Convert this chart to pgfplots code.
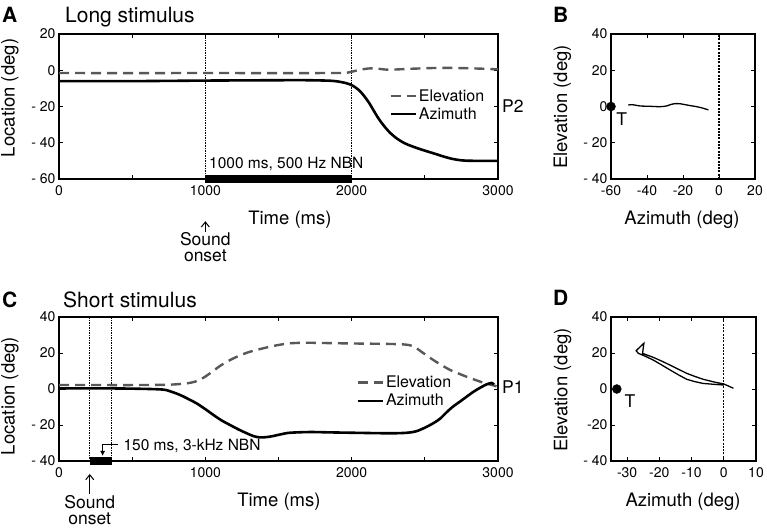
\documentclass[border=0pt]{standalone}
\usepackage{fontspec}
\setmainfont{TeX Gyre Heros}
\usepackage{pgfplots}
\pgfplotsset{compat=1.18}
\usetikzlibrary{arrows.meta}
\definecolor{elev}{RGB}{88,88,88}

\pgfplotsset{
  panel/.style={
    scale only axis, clip=false, anchor=south west,
    tick align=inside, major tick length=4pt, minor tick length=4pt,
    tick style={black, line width=0.9pt},
    axis line style={line width=1.1pt},
    tick label style={font=\fontsize{14}{14}\selectfont},
    xticklabel style={yshift=-3pt},
    label style={font=\fontsize{18.5}{18.5}\selectfont},
    legend image code/.code={\draw[##1] (0pt,0pt) -- (25pt,0pt);},
    legend style={draw=none, fill=none, inner sep=0pt, row sep=1pt,
      font=\fontsize{16}{16}\selectfont, cells={anchor=west}},
  },
}
\tikzset{
  elevation/.style={elev, line width=2.4pt, dash pattern=on 10pt off 6pt},
  azimuth/.style={black, line width=2.6pt},
  track/.style={black, line width=1.3pt},
  marker/.style={black, line width=1.3pt, dash pattern=on 1.5pt off 1pt},
  paneltag/.style={anchor=base west, inner sep=0pt, font=\fontsize{21}{21}\selectfont\bfseries},
  paneltitle/.style={anchor=base west, inner sep=0pt, font=\fontsize{21}{21}\selectfont},
  small/.style={inner sep=0pt, font=\fontsize{17.5}{16.5}\selectfont},
  onset/.style={-{Straight Barb[length=5pt,width=8pt]}, line width=1pt},
}

\begin{document}
\begin{tikzpicture}
\path[use as bounding box] (0pt,0pt) rectangle (767pt,528pt);

% ---------------- A: long stimulus
\begin{axis}[panel, at={(59pt,349pt)}, width=439pt, height=145pt,
  xmin=0, xmax=3000, ymin=-60, ymax=20,
  xtick={0,1000,2000,3000}, xticklabels={0,1000,2000,3000},
  minor xtick={500,1500,2500},
  ytick={-60,-40,-20,0,20}, yticklabels={- 60,- 40,- 20,0,20},
  xlabel={Time (ms)}, ylabel={Location (deg)},
  xlabel style={at={(axis description cs:0.526,-0.283)}, anchor=center},
  ylabel style={at={(axis description cs:-0.112,0.559)}, anchor=center},
  legend style={at={(rel axis cs:0.752,0.51)}, anchor=west},
]
\addplot[marker, forget plot] coordinates {(1000,-60) (1000,20)};
\addplot[marker, forget plot] coordinates {(2000,-60) (2000,20)};
\addplot[black, line width=8pt, forget plot] coordinates {(1000,-60) (2000,-60)};
\addplot[elevation, smooth] coordinates {
  (0,-1.5) (500,-1.6) (1000,-1.5) (1500,-1.6) (1900,-1.5) (1966,-1.4) (2011,-0.6)
  (2080,0.6) (2150,1.1) (2250,0.3) (2400,0.8) (2600,1.3) (2800,1.1) (3000,0.5)};
\addlegendentry{Elevation}
\addplot[azimuth, smooth] coordinates {
  (0,-6.0) (500,-6.0) (1000,-5.7) (1500,-5.5) (1700,-5.5) (1875,-5.9) (1966,-7.2)
  (2011,-8.7) (2050,-11) (2080,-13.7) (2115,-17.5) (2148,-21.9) (2180,-26.2)
  (2216,-30.2) (2260,-34.3) (2308,-37.6) (2360,-40.2) (2421,-42.2) (2490,-44.1)
  (2558,-45.8) (2620,-47.4) (2672,-48.6) (2730,-49.5) (2786,-49.9) (2900,-50.0) (3000,-50.0)};
\addlegendentry{Azimuth}
\node[paneltag] at (rel axis cs:-0.13,1.076) {A};
\node[paneltitle] at (rel axis cs:0.0137,1.078) {Long stimulus};
\node[small, anchor=west] at (rel axis cs:1,0.5) [xshift=4pt] {P2};
\node[anchor=west, inner sep=0pt, font=\fontsize{15.5}{15.5}\selectfont] at (axis cs:1025,-51.7) {1000 ms, 500 Hz NBN};
\draw[onset] (axis cs:1000,-89) -- (axis cs:1000,-83.3);
\node[small, anchor=north, align=center] at (axis cs:1000,-89.2) {Sound\\onset};
\end{axis}

% ---------------- B
\begin{axis}[panel, at={(611pt,349pt)}, width=144pt, height=145pt,
  xmin=-60, xmax=20, ymin=-40, ymax=40,
  xtick={-60,-40,-20,0,20}, xticklabels={-60,-40,-20,0,20},
  ytick={-40,-20,0,20,40}, yticklabels={- 40,- 20,0,20,40},
  xlabel={Azimuth (deg)}, ylabel={Elevation (deg)},
  xlabel style={at={(axis description cs:0.493,-0.283)}, anchor=center},
  ylabel style={at={(axis description cs:-0.337,0.497)}, anchor=center},
]
\addplot[black, line width=1.1pt, dash pattern=on 2pt off 1.3pt] coordinates {(0,-40) (0,40)};
\addplot[track, smooth] coordinates {
  (-50.4,0.8) (-48,1.0) (-43.9,0.3) (-38,0.1) (-32.8,-0.1) (-29.1,0.3) (-26.5,1.2)
  (-24.4,1.6) (-21.5,1.5) (-19.8,1.2) (-16,0.5) (-12.4,-0.1) (-9,-0.9) (-5.9,-1.9)};
\addplot[only marks, mark=*, mark size=4.5pt, black] coordinates {(-60,0)};
\node[small] at (axis cs:-54.1,-7.2) {T};
\node[paneltag] at (rel axis cs:-0.403,1.076) {B};
\end{axis}

% ---------------- C: short stimulus
\begin{axis}[panel, at={(59pt,67pt)}, width=439pt, height=144pt,
  xmin=0, xmax=3000, ymin=-40, ymax=40,
  xtick={0,1000,2000,3000}, xticklabels={0,1000,2000,3000},
  minor xtick={500,1500,2500},
  ytick={-40,-20,0,20,40}, yticklabels={- 40,- 20,0,20,40},
  xlabel={Time (ms)}, ylabel={Location (deg)},
  xlabel style={at={(axis description cs:0.501,-0.285)}, anchor=center},
  ylabel style={at={(axis description cs:-0.112,0.451)}, anchor=center},
  legend style={at={(rel axis cs:0.677,0.481)}, anchor=west},
]
\addplot[marker, forget plot] coordinates {(210,-40) (210,40)};
\addplot[marker, forget plot] coordinates {(360,-40) (360,40)};
\addplot[black, line width=8pt, forget plot] coordinates {(210,-40) (362,-40)};
\addplot[elevation, smooth] coordinates {
  (0,2.2) (300,2.2) (500,2.2) (700,2.3) (800,2.6) (895,3.4) (960,5) (1032,8.7)
  (1100,12.8) (1169,16.1) (1240,18.8) (1305,20.7) (1380,22.3) (1442,23.5) (1510,24.6)
  (1579,25.4) (1693,25.7) (1850,25.5) (2000,25.3) (2200,25.1) (2350,24.8) (2420,23.8)
  (2480,20.5) (2558,16.1) (2620,13) (2672,10.6) (2730,8.6) (2786,6.8) (2850,4.9)
  (2900,3.5) (2960,2.2) (2990,1.5)};
\addlegendentry{Elevation}
\addplot[azimuth, smooth] coordinates {
  (0,0.3) (400,0.3) (690,-0.2) (760,-1.3) (827,-3.3) (885,-5.6) (941,-8) (1000,-11.2)
  (1055,-14.4) (1110,-17.4) (1169,-20) (1230,-22.6) (1283,-24.6) (1330,-26.2)
  (1374,-26.9) (1420,-26.7) (1465,-26.1) (1520,-25.1) (1579,-24.3) (1715,-23.9)
  (1850,-24.1) (2000,-24.3) (2262,-24.6) (2380,-24.3) (2440,-23.5) (2500,-21.5)
  (2558,-19) (2604,-16.5) (2649,-12.9) (2695,-9.6) (2740,-7) (2790,-4) (2831,-1.6)
  (2880,0.8) (2923,2.6) (2957,3.4) (2972,2.5)};
\addlegendentry{Azimuth}
\node[paneltag] at (rel axis cs:-0.13,1.069) {C};
\node[paneltitle] at (rel axis cs:0.0091,1.069) {Short stimulus};
\node[small, anchor=west] at (rel axis cs:1,0.51) [xshift=4pt] {P1};
\draw[line width=0.8pt, -{Latex[length=5pt,width=5pt]}] (axis cs:405,-30.6) -- (axis cs:298,-30.6) -- (axis cs:298,-37.2);
\node[anchor=west, inner sep=0pt, font=\fontsize{15.5}{15.5}\selectfont] at (axis cs:440,-31.7) {150 ms, 3-kHz NBN};
\draw[onset] (axis cs:210,-58.3) -- (axis cs:210,-47.2);
\node[small, anchor=north, align=center] at (axis cs:210,-58.8) {Sound\\onset};
\end{axis}

% ---------------- D
\begin{axis}[panel, at={(611pt,67pt)}, width=145pt, height=144pt,
  xmin=-35, xmax=10, ymin=-40, ymax=40,
  xtick={-30,-20,-10,0,10}, xticklabels={-30,-20,-10,0,10},
  ytick={-40,-20,0,20,40}, yticklabels={- 40,-20,0,20,40},
  xlabel={Azimuth (deg)}, ylabel={Elevation (deg)},
  xlabel style={at={(axis description cs:0.497,-0.285)}, anchor=center},
  ylabel style={at={(axis description cs:-0.334,0.493)}, anchor=center},
]
\addplot[black, line width=1.1pt, dash pattern=on 2pt off 1.3pt] coordinates {(0,-40) (0,40)};
\addplot[track] coordinates {
  (0,2.2) (-3,2.6) (-6.4,3.1) (-9,4.1) (-11.5,5.4) (-14,7.8) (-16.7,10.6) (-19.5,13.6)
  (-21.9,16.1) (-24.5,18.3) (-26.5,19.8) (-27.2,21.3) (-24.8,25.4) (-25.2,19.8)
  (-21.9,17.6) (-19,15.3) (-16.7,13.3) (-14,10.9) (-11.5,8.7) (-9,7) (-6.4,5.4)
  (-3,3.9) (0,2.8) (3,0.4)};
\addplot[only marks, mark=*, mark size=4.5pt, black] coordinates {(-33.2,0)};
\node[small] at (axis cs:-29.1,-6.7) {T};
\node[paneltag] at (rel axis cs:-0.40,1.083) {D};
\end{axis}
\end{tikzpicture}
\end{document}
